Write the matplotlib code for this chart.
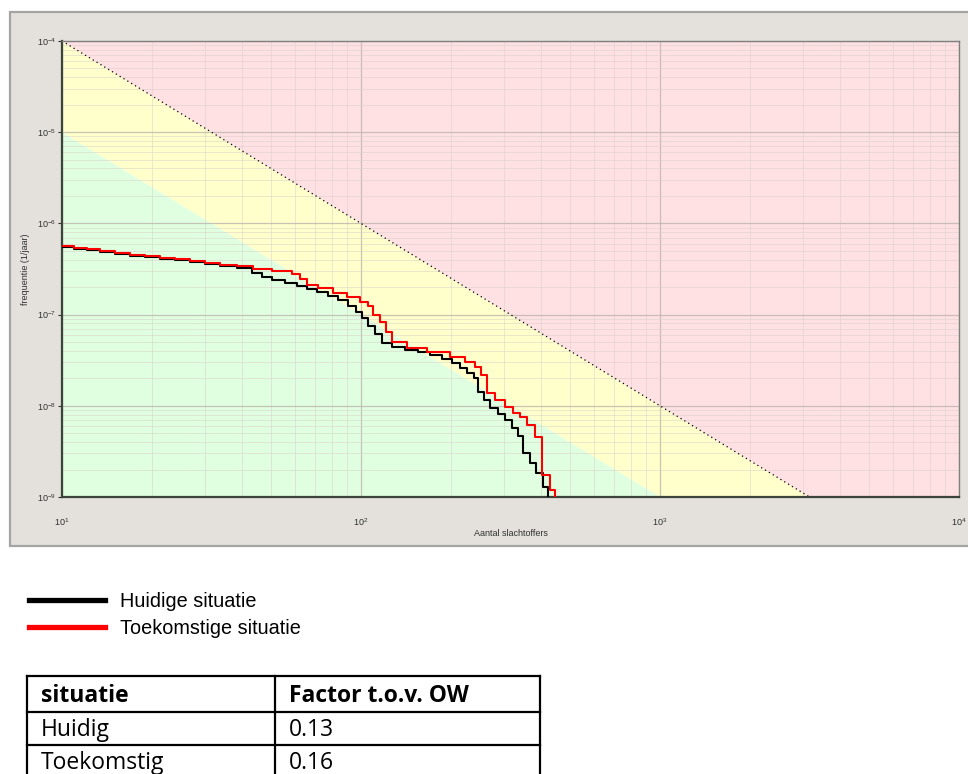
import numpy as np
import matplotlib
matplotlib.use('Agg')
import matplotlib.pyplot as plt
from matplotlib.lines import Line2D
from matplotlib.patches import Rectangle
from matplotlib.ticker import LogLocator, LogFormatterMathtext, NullFormatter

W, H = 968, 774
plt.rcParams['font.family'] = ['Liberation Sans', 'DejaVu Sans']

# ---------------- data ----------------
huidig_N = [10, 11.0, 12.1, 13.4, 15.0, 16.9, 18.9, 21.3, 23.9, 26.8,
            30.1, 33.7, 38.4, 43.2, 46.6, 50.4, 55.7, 61.1, 66.0, 71.3,
            77.6, 83.8, 90.5, 96.2, 100.7, 105.5, 111.3, 117.5, 127, 140,
            155, 170, 187, 201, 214, 226, 239, 246, 258, 270,
            287, 303, 320, 335, 348, 368, 385, 406, 422]
huidig_F = [5.5e-7, 5.24e-7, 5.05e-7, 4.86e-7, 4.61e-7, 4.39e-7, 4.23e-7, 4.07e-7, 3.92e-7, 3.77e-7,
            3.59e-7, 3.41e-7, 3.24e-7, 2.86e-7, 2.58e-7, 2.39e-7, 2.22e-7, 2.06e-7, 1.91e-7, 1.77e-7,
            1.60e-7, 1.45e-7, 1.24e-7, 1.07e-7, 9.18e-8, 7.50e-8, 6.12e-8, 4.88e-8, 4.42e-8, 4.09e-8,
            3.89e-8, 3.61e-8, 3.26e-8, 2.94e-8, 2.60e-8, 2.29e-8, 2.02e-8, 1.42e-8, 1.16e-8, 9.46e-9,
            8.13e-9, 6.98e-9, 5.71e-9, 4.67e-9, 3.03e-9, 2.36e-9, 1.83e-9, 1.29e-9, 5e-10]

toekomst_N = [10, 11.0, 12.1, 13.4, 15.0, 16.9, 18.9, 21.3, 23.9, 26.8,
              30.1, 33.7, 38.4, 43.6, 50.4, 58.8, 62.6, 66.0, 71.7, 80.6,
              89.9, 98.9, 105.5, 109.9, 115.7, 121.4, 127.1, 142.7, 166.3, 198.4,
              222.5, 240.5, 252, 263.9, 280, 303, 322, 340, 358, 382,
              403, 428, 444]
toekomst_F = [5.65e-7, 5.37e-7, 5.18e-7, 4.98e-7, 4.73e-7, 4.51e-7, 4.34e-7, 4.18e-7, 4.02e-7, 3.87e-7,
              3.68e-7, 3.54e-7, 3.41e-7, 3.16e-7, 3.01e-7, 2.79e-7, 2.46e-7, 2.11e-7, 1.96e-7, 1.73e-7,
              1.56e-7, 1.37e-7, 1.24e-7, 9.90e-8, 8.30e-8, 6.44e-8, 5.01e-8, 4.31e-8, 3.89e-8, 3.43e-8,
              3.02e-8, 2.66e-8, 2.18e-8, 1.38e-8, 1.16e-8, 9.70e-9, 8.34e-9, 7.54e-9, 6.15e-9, 4.55e-9,
              1.74e-9, 1.19e-9, 5e-10]

# norm lines (end points)
norm_N = [10, 1e4]
norm_upper = [1e-4, 1e-10]   # orientatiewaarde
norm_lower = [1e-5, 1e-11]   # 0.1 x orientatiewaarde

legend_labels = ['Huidige situatie', 'Toekomstige situatie']
table_header = ['situatie', 'Factor t.o.v. OW']
table_rows = [['Huidig', '0.13'], ['Toekomstig', '0.16']]

# ---------------- figure ----------------
fig = plt.figure(figsize=(W / 100, H / 100), dpi=100)
fig.patch.set_facecolor('white')

bg = fig.add_axes([0, 0, 1, 1], zorder=-5)
bg.set_xlim(0, W)
bg.set_ylim(H, 0)
bg.axis('off')
bg.add_patch(Rectangle((10, 12), 980, 534, facecolor='#e4e1dc', edgecolor='#a4a4a4', lw=1.6))

L, R, T, B = 62, 959, 41, 497
ax = fig.add_axes([L / W, 1 - B / H, (R - L) / W, (B - T) / H])
ax.set_xscale('log')
ax.set_yscale('log')
ax.set_xlim(10, 1e4)
ax.set_ylim(1e-9, 1e-4)

pink = '#ffe0e3'
yellow = '#ffffcc'
green = '#e0ffe0'
ax.fill_between(norm_N, norm_upper, [1e-3, 1e-3], color=pink, lw=0, zorder=0.1)
ax.fill_between(norm_N, norm_lower, norm_upper, color=yellow, lw=0, zorder=0.1)
ax.fill_between(norm_N, [1e-13, 1e-13], norm_lower, color=green, lw=0, zorder=0.1)
ax.plot(norm_N, norm_upper, color='black', ls=(0, (1, 2.6)), lw=0.9, zorder=2)

ax.set_axisbelow(True)
ax.grid(which='major', color='#bdb5ad', lw=0.9, alpha=0.8)
ax.grid(which='minor', color='#d8d0ca', lw=0.6, alpha=0.6)

ax.step(huidig_N, huidig_F, where='post', color='black', lw=1.5, zorder=3)
ax.step(toekomst_N, toekomst_F, where='post', color='#ff0000', lw=1.5, zorder=4)

ax.xaxis.set_major_locator(LogLocator(base=10, numticks=10))
ax.yaxis.set_major_locator(LogLocator(base=10, numticks=10))
ax.xaxis.set_major_formatter(LogFormatterMathtext())
ax.yaxis.set_major_formatter(LogFormatterMathtext())
ax.xaxis.set_minor_formatter(NullFormatter())
ax.yaxis.set_minor_formatter(NullFormatter())
ax.tick_params(axis='x', which='both', length=0, pad=14, labelsize=6.5, colors='#303030')
ax.tick_params(axis='y', which='major', length=3, width=0.8, pad=1, labelsize=6.5, colors='#303030')
ax.tick_params(axis='y', which='minor', length=0)

for s in ['left', 'bottom']:
    ax.spines[s].set_color('#3a443a')
    ax.spines[s].set_linewidth(1.6)
for s in ['top', 'right']:
    ax.spines[s].set_color('#808080')
    ax.spines[s].set_linewidth(1.0)

ax.set_xlabel('Aantal slachtoffers', fontsize=6.5, color='#303030')
ax.xaxis.set_label_coords(0.5, -0.07)
ax.set_ylabel('frequentie (1/jaar)', fontsize=6.5, color='#303030')
ax.yaxis.set_label_coords(-0.036, 0.5)

# ---------------- legend ----------------
handles = [Line2D([], [], color='black', lw=3.8), Line2D([], [], color='#ff0000', lw=3.8)]
fig.legend(handles=handles, labels=legend_labels, loc='upper left',
           bbox_to_anchor=(29 / W, 1 - 592 / H), frameon=False, fontsize=14.3,
           handlelength=3.85, handletextpad=0.75, labelspacing=0.38,
           borderpad=0, borderaxespad=0)

# ---------------- table ----------------
tx = [27, 275, 540]
ty = [676, 712, 745, 790]
lwt = 1.6
for yv in ty[:3]:
    bg.plot([tx[0], tx[2]], [yv, yv], color='black', lw=lwt, solid_capstyle='projecting')
for xv in tx:
    bg.plot([xv, xv], [ty[0], ty[3]], color='black', lw=lwt, solid_capstyle='projecting')

tfont = ['Open Sans', 'DejaVu Sans']
for j, txt in enumerate(table_header):
    bg.text(tx[j] + 14, (ty[0] + ty[1]) / 2 + 2, txt, fontsize=16.5, fontweight='bold',
            family=tfont, va='center', ha='left', color='black')
for i, row in enumerate(table_rows):
    yc = (ty[i + 1] + ty[i + 2]) / 2 + 2 if i == 0 else ty[i + 1] + 18
    for j, txt in enumerate(row):
        bg.text(tx[j] + 14, yc, txt, fontsize=16.5, family=tfont,
                va='center', ha='left', color='black')

fig.savefig('out.png', dpi=100)
